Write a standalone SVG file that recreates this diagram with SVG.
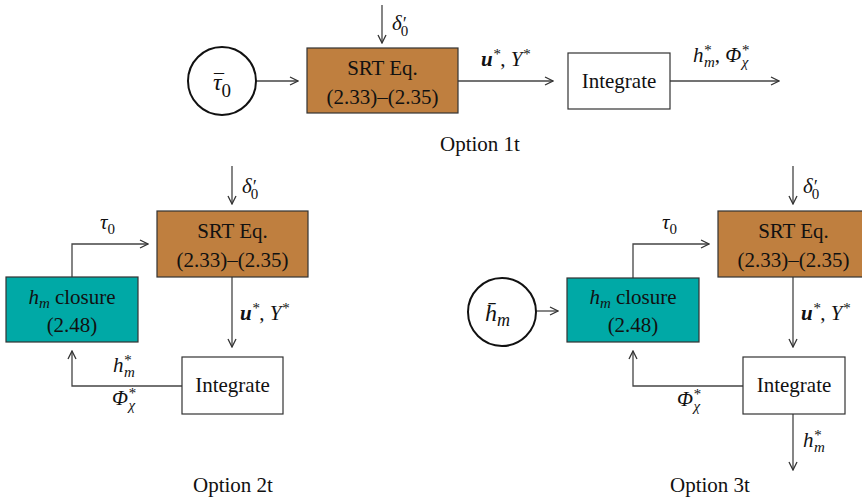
<svg xmlns="http://www.w3.org/2000/svg" width="862" height="500" viewBox="0 0 862 500">
<style>
text{font-family:"Liberation Serif","Times New Roman",serif;fill:#111}
.lbl{font-size:21px}
.box{stroke:#333;stroke-width:1.2}
.srt{fill:#BF7F3F}
.clo{fill:#00A9A6}
.int{fill:#fff}
.circ{fill:#fff;stroke:#111;stroke-width:2}
.ln{fill:none;stroke:#444;stroke-width:1.3;marker-end:url(#ah)}
.it{font-style:italic;font-size:21px}
.s{font-size:15px}
.b{font-weight:bold}
</style>
<defs>
<marker id="ah" viewBox="0 0 10 10" refX="9" refY="5" markerWidth="10" markerHeight="10" markerUnits="userSpaceOnUse" orient="auto">
<path d="M1,1 L9,5 L1,9" fill="none" stroke="#333" stroke-width="1.3"/>
</marker>
</defs>

<g id="connectors">
<line class="ln" x1="256" y1="81" x2="298" y2="81"/>
<line class="ln" x1="382" y1="5" x2="382" y2="43"/>
<line class="ln" x1="458" y1="81" x2="553" y2="81"/>
<line class="ln" x1="670" y1="81" x2="779" y2="81"/>
<line class="ln" x1="232" y1="166" x2="232" y2="204"/>
<polyline class="ln" points="72,277 72,244 148,244"/>
<line class="ln" x1="232" y1="277" x2="232" y2="347"/>
<polyline class="ln" points="182,386 72,386 72,351"/>
<line class="ln" x1="793" y1="166" x2="793" y2="204"/>
<line class="ln" x1="536" y1="311" x2="558" y2="311"/>
<polyline class="ln" points="633,278 633,244 709,244"/>
<line class="ln" x1="793" y1="277" x2="793" y2="347"/>
<polyline class="ln" points="743,386 633,386 633,351"/>
<line class="ln" x1="793" y1="414" x2="793" y2="470"/>
</g>

<g id="labels">
<text class="it" x="392" y="30">δ<tspan font-size="18">′</tspan><tspan class="s" font-style="normal" dx="-5" dy="6">0</tspan></text>
<text class="it" x="481" y="66"><tspan class="b">u</tspan><tspan class="s" dy="-7">*</tspan><tspan font-style="normal" dy="7">, </tspan>Y<tspan class="s" dy="-7">*</tspan></text>
<text class="it" x="693" y="62">h<tspan class="s" dy="-7">*</tspan><tspan class="s" dx="-7" dy="12">m</tspan><tspan font-style="normal" dy="-5">, </tspan>Φ<tspan class="s" dy="-7">*</tspan><tspan class="s" dx="-7" dy="12">χ</tspan></text>
<text class="lbl" x="480" y="151" text-anchor="middle">Option 1t</text>

<text class="it" x="242" y="193">δ<tspan font-size="18">′</tspan><tspan class="s" font-style="normal" dx="-5" dy="6">0</tspan></text>
<text class="it" x="100" y="229">τ<tspan class="s" font-style="normal" dy="5">0</tspan></text>
<text class="it" x="240" y="320"><tspan class="b">u</tspan><tspan class="s" dy="-7">*</tspan><tspan font-style="normal" dy="7">, </tspan>Y<tspan class="s" dy="-7">*</tspan></text>
<text class="it" x="113" y="372">h<tspan class="s" dy="-7">*</tspan><tspan class="s" dx="-7" dy="12">m</tspan></text>
<text class="it" x="112" y="405">Φ<tspan class="s" dy="-7">*</tspan><tspan class="s" dx="-7" dy="12">χ</tspan></text>
<text class="lbl" x="233" y="492" text-anchor="middle">Option 2t</text>

<text class="it" x="803" y="193">δ<tspan font-size="18">′</tspan><tspan class="s" font-style="normal" dx="-5" dy="6">0</tspan></text>
<text class="it" x="662" y="229">τ<tspan class="s" font-style="normal" dy="5">0</tspan></text>
<text class="it" x="801" y="320"><tspan class="b">u</tspan><tspan class="s" dy="-7">*</tspan><tspan font-style="normal" dy="7">, </tspan>Y<tspan class="s" dy="-7">*</tspan></text>
<text class="it" x="677" y="406">Φ<tspan class="s" dy="-7">*</tspan><tspan class="s" dx="-7" dy="12">χ</tspan></text>
<text class="it" x="803" y="447">h<tspan class="s" dy="-7">*</tspan><tspan class="s" dx="-7" dy="12">m</tspan></text>
<text class="lbl" x="710" y="492" text-anchor="middle">Option 3t</text>
</g>

<g id="tau0bar">
<circle class="circ" cx="222" cy="81" r="34"/>
<text x="213" y="90" font-size="24" font-style="italic">τ<tspan font-size="19" font-style="normal" dy="7">0</tspan></text>
<text x="219" y="89" font-size="20" text-anchor="middle">¯</text>
</g>
<g id="srt1">
<rect class="box srt" x="307" y="48" width="151" height="65"/>
<text class="lbl" x="382.5" y="75" text-anchor="middle">SRT Eq.</text>
<text class="lbl" x="382.5" y="104" text-anchor="middle">(2.33)–(2.35)</text>
</g>
<g id="integrate1">
<rect class="box int" x="568" y="53" width="102" height="56"/>
<text class="lbl" x="619" y="88" text-anchor="middle">Integrate</text>
</g>

<g id="srt2">
<rect class="box srt" x="157" y="211" width="151" height="66"/>
<text class="lbl" x="232.5" y="238" text-anchor="middle">SRT Eq.</text>
<text class="lbl" x="232.5" y="267" text-anchor="middle">(2.33)–(2.35)</text>
</g>
<g id="closure2">
<rect class="box clo" x="6" y="277" width="132" height="65"/>
<text class="lbl" x="72" y="304" text-anchor="middle"><tspan font-style="italic">h<tspan class="s" dy="4">m</tspan></tspan><tspan dy="-4"> closure</tspan></text>
<text class="lbl" x="72" y="332" text-anchor="middle">(2.48)</text>
</g>
<g id="integrate2">
<rect class="box int" x="182" y="357" width="101" height="57"/>
<text class="lbl" x="232.5" y="392" text-anchor="middle">Integrate</text>
</g>

<g id="hmbar">
<circle class="circ" cx="502" cy="312" r="34"/>
<text x="485" y="321" font-size="24" font-style="italic">h̄<tspan font-size="18" dy="5">m</tspan></text>
</g>
<g id="srt3">
<rect class="box srt" x="718" y="211" width="151" height="66"/>
<text class="lbl" x="793.5" y="238" text-anchor="middle">SRT Eq.</text>
<text class="lbl" x="793.5" y="267" text-anchor="middle">(2.33)–(2.35)</text>
</g>
<g id="closure3">
<rect class="box clo" x="567" y="278" width="132" height="64"/>
<text class="lbl" x="633" y="304" text-anchor="middle"><tspan font-style="italic">h<tspan class="s" dy="4">m</tspan></tspan><tspan dy="-4"> closure</tspan></text>
<text class="lbl" x="633" y="332" text-anchor="middle">(2.48)</text>
</g>
<g id="integrate3">
<rect class="box int" x="743" y="357" width="102" height="57"/>
<text class="lbl" x="794" y="392" text-anchor="middle">Integrate</text>
</g>
</svg>
